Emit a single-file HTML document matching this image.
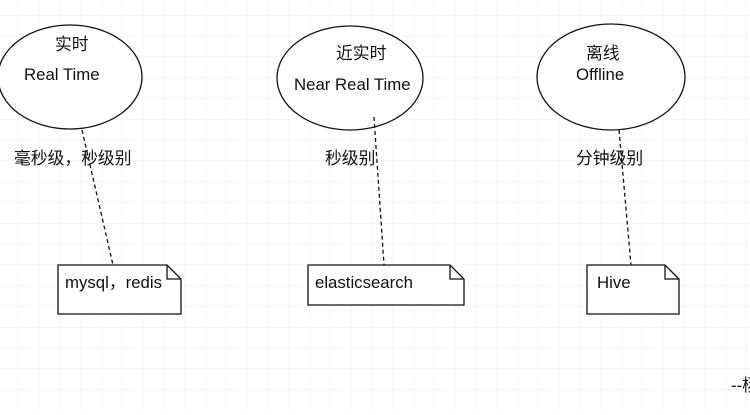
<!DOCTYPE html>
<html><head><meta charset="utf-8"><style>
html,body{margin:0;padding:0;background:#fff;}
body{width:750px;height:410px;overflow:hidden;}
text{font-family:"Liberation Sans","Noto Sans CJK SC",sans-serif;font-size:16.8px;fill:#111;}
</style></head><body>
<svg width="750" height="410" xmlns="http://www.w3.org/2000/svg">
<defs><pattern id="g" width="20.8" height="20.8" patternUnits="userSpaceOnUse" x="18" y="15">
<path d="M0 0H20.8M0 0V20.8" stroke="#efefef" stroke-width="1" fill="none"/></pattern></defs>
<rect width="750" height="410" fill="url(#g)"/>
<g fill="none" stroke="#111" stroke-width="1.3">
<ellipse cx="70" cy="77" rx="72" ry="52" fill="#fff"/>
<ellipse cx="350" cy="78" rx="73" ry="52" fill="#fff"/>
<ellipse cx="611" cy="77" rx="74" ry="53" fill="#fff"/>
<g stroke-dasharray="4,3">
<line x1="82" y1="130" x2="113" y2="265"/>
<line x1="374" y1="117" x2="384" y2="265"/>
<line x1="619" y1="130" x2="631" y2="265"/>
</g>
<path d="M58 265H167L181 279V314H58Z" fill="#fff"/><path d="M167 265V279H181"/>
<path d="M308 265H450L464 279V305H308Z" fill="#fff"/><path d="M450 265V279H464"/>
<path d="M587 265H665L679 279V314H587Z" fill="#fff"/><path d="M665 265V279H679"/>
</g>
<text x="55" y="50">实时</text>
<text x="24" y="80">Real Time</text>
<text x="14" y="164">毫秒级，秒级别</text>
<text x="336" y="59">近实时</text>
<text x="294" y="90">Near Real Time</text>
<text x="325" y="164">秒级别</text>
<text x="586" y="59">离线</text>
<text x="576" y="80">Offline</text>
<text x="576" y="164">分钟级别</text>
<text x="65" y="288">mysql，redis</text>
<text x="315" y="288">elasticsearch</text>
<text x="597" y="288">Hive</text>
<text x="731" y="391">--杨</text>
</svg>
</body></html>
